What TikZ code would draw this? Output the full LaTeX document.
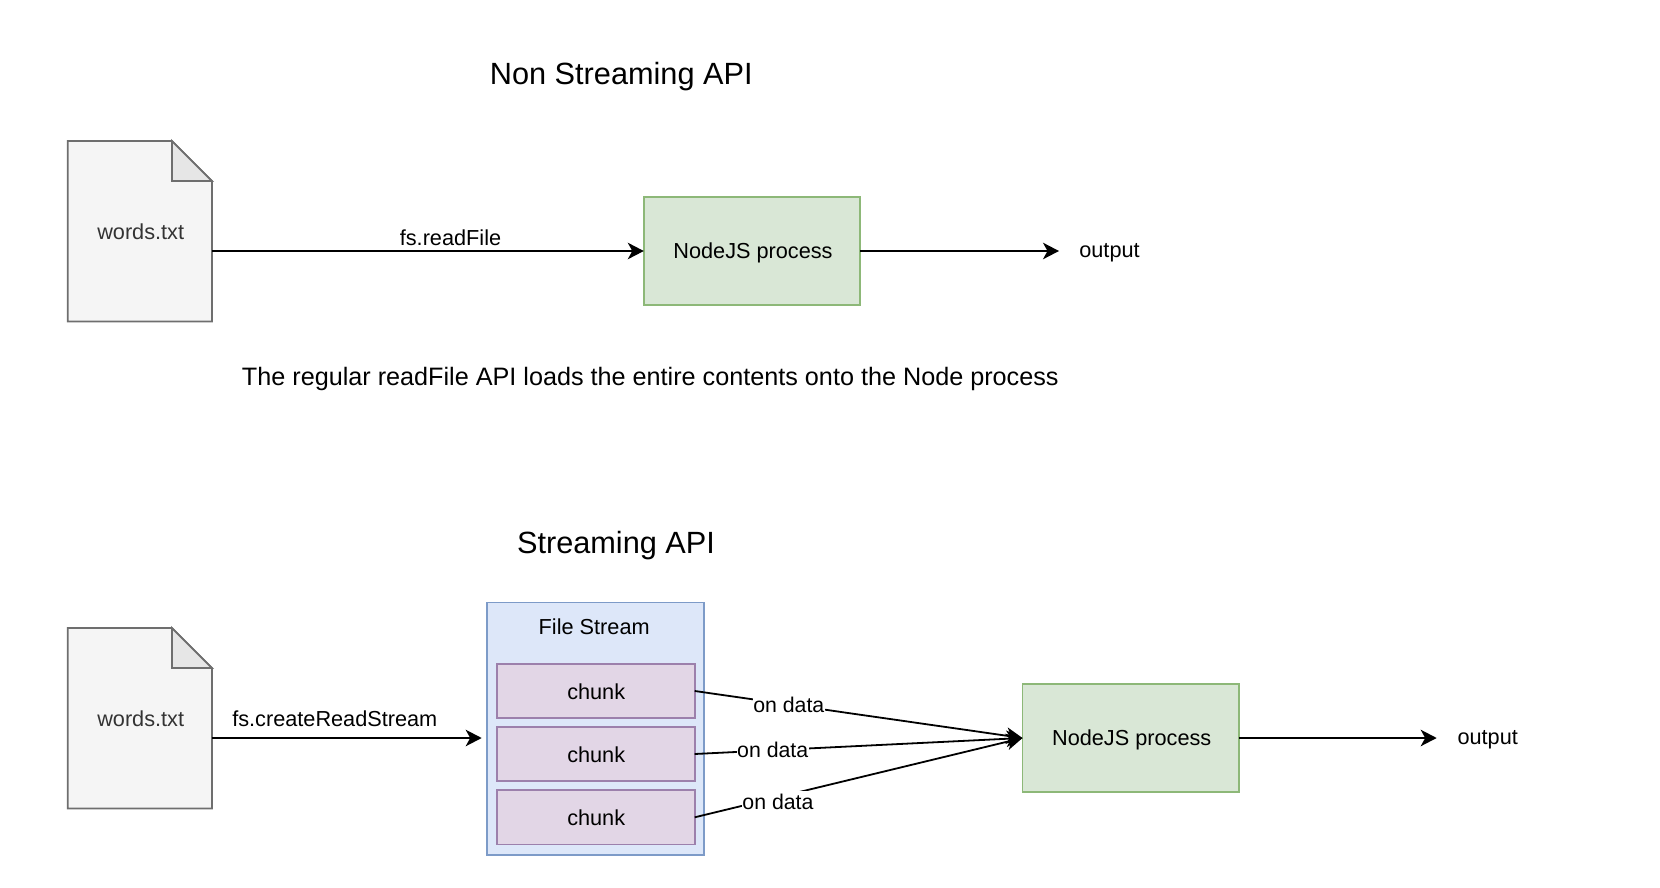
\documentclass[tikz,border=0pt]{standalone}
\usepackage{fontspec}
\setmainfont{Liberation Sans}
\usetikzlibrary{arrows.meta}
\definecolor{filefill}{HTML}{F5F5F5}
\definecolor{fileline}{HTML}{6E6E6E}
\definecolor{filetext}{HTML}{333333}
\definecolor{foldfill}{HTML}{E6E6E6}
\definecolor{greenfill}{HTML}{D9E7D6}
\definecolor{greenline}{HTML}{8DB878}
\definecolor{bluefill}{HTML}{DDE7F9}
\definecolor{blueline}{HTML}{7D9BC8}
\definecolor{purplefill}{HTML}{E2D6E6}
\definecolor{purpleline}{HTML}{9C80AC}
\tikzset{
  base/.style={line width=1.8pt,outer sep=0pt,inner sep=0pt},
  body/.style={font=\fontsize{21.7}{26}\selectfont},
  small/.style={font=\fontsize{21.3}{25}\selectfont},
  title/.style={font=\fontsize{30.7}{36}\selectfont,inner sep=0pt},
  plain/.style={body,inner sep=0pt},
  proc/.style={base,draw=greenline,fill=greenfill,minimum width=216.4pt,minimum height=108.6pt},
  chunkbox/.style={base,draw=purpleline,fill=purplefill,minimum width=198pt,minimum height=54.4pt},
  streambox/.style={base,draw=blueline,fill=bluefill,minimum width=216.8pt,minimum height=252.6pt},
  filebox/.style={minimum width=144.2pt,minimum height=180.4pt,inner sep=0pt,outer sep=0pt},
  filebody/.style={line width=1.8pt,draw=fileline,fill=filefill,line join=miter},
  filefold/.style={line width=1.8pt,draw=fileline,fill=foldfill,line join=miter},
  flow/.style={line width=1.8pt,black,-{Stealth[length=16pt,width=16.5pt,inset=4.5pt]}},
  edgelabel/.style={small,fill=white,inner xsep=0.5pt,inner ysep=3pt},
}
\newcommand{\filesheet}[1]{%
  \draw[filebody] (#1.north west) -- ([xshift=-40pt]#1.north east) -- ([yshift=-40pt]#1.north east) -- (#1.south east) -- (#1.south west) -- cycle;
  \draw[filefold] ([xshift=-40pt]#1.north east) -- ([yshift=-40pt]#1.north east) -- ([xshift=-40pt,yshift=-40pt]#1.north east) -- cycle;
}
\begin{document}
\begin{tikzpicture}[x=1pt,y=-1pt]
\useasboundingbox (0,0) rectangle (1660,888);
% Non streaming
\node[title] (t1) at (621.3,76.5) {Non Streaming API};
\node[filebox] (f1) at (139.8,231.2) {};
\filesheet{f1}
\node[plain,text=filetext] (w1) at (140.7,232) {words.txt};
\node[proc] (p1) at (752,251) {};
\node[plain] (pt1) at (753,252.8) {NodeJS process};
\coordinate (e1) at (1059,251);
\node[plain] (o1) at (1109.5,252.6) {output};
\draw[flow] (p1.west -| f1.east) -- (p1.west);
\draw[flow] (p1.east) -- (e1);
\node[plain,anchor=base] (l1) at (450.5,245) {fs.readFile};
\node[plain] (note) at (650.3,378.6) {\fontsize{25.2}{30}\selectfont The regular readFile API loads the entire contents onto the Node process};
% Streaming
\node[title] (t2) at (616,546) {Streaming API};
\node[filebox] (f2) at (139.8,718.2) {};
\filesheet{f2}
\node[plain,text=filetext] (w2) at (140.7,719) {words.txt};
\node[streambox] (s) at (595.3,728.8) {};
\node[plain] (st) at (594.2,627) {File Stream};
\node[chunkbox] (c1) at (595.7,691) {};
\node[chunkbox] (c2) at (595.7,754) {};
\node[chunkbox] (c3) at (595.7,817.3) {};
\node[plain] (ct1) at (596.2,692) {chunk};
\node[plain] (ct2) at (596.2,755) {chunk};
\node[plain] (ct3) at (596.2,818) {chunk};
\node[proc] (p2) at (1130.7,738) {};
\node[plain] (pt2) at (1131.7,739.8) {NodeJS process};
\coordinate (e2) at (481.7,738);
\coordinate (e3) at (1436.7,738);
\node[plain] (o2) at (1487.7,740) {output};
\draw[flow] (p2.west -| f2.east) -- (e2);
\node[plain] (l2) at (334.8,719) {fs.createReadStream};
\draw[flow] (p2.east) -- (e3);
\draw[flow] (c1.east) -- (p2.west) node[edgelabel,pos=0.287] (d1) {on data};
\draw[flow] (c2.east) -- (p2.west) node[edgelabel,pos=0.238] (d2) {on data};
\draw[flow] (c3.east) -- (p2.west) node[edgelabel,pos=0.254,yshift=-4.4pt] (d3) {on data};
\end{tikzpicture}
\end{document}
